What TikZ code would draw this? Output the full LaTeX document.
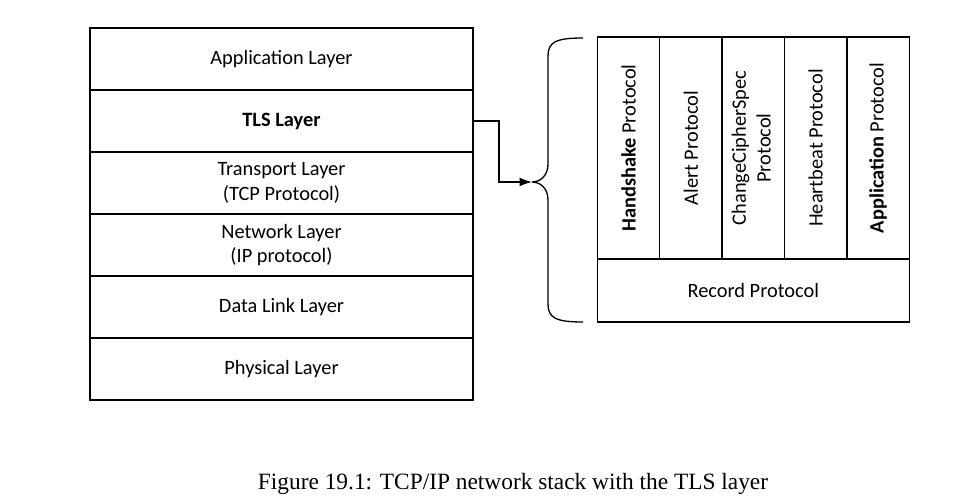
\documentclass[tikz,border=0pt]{standalone}
\usepackage{fontspec}
\setmainfont{Carlito}
\newfontfamily\capfont{Liberation Serif}
\usepackage{tikz}
\usetikzlibrary{positioning, arrows.meta}

\begin{document}
\begin{tikzpicture}[x=0.02cm, y=-0.02cm, node distance=0pt,
    every node/.style={font=\fontsize{11.6}{14}\selectfont},
    layerbox/.style={draw, line width=0.75pt, outer sep=0pt, minimum width=7.66cm, minimum height=1.24cm, align=center, inner sep=0pt},
    protobox/.style={draw, line width=0.75pt, outer sep=0pt, minimum width=1.248cm, minimum height=4.44cm, inner sep=0pt},
    recordbox/.style={draw, line width=0.75pt, outer sep=0pt, minimum width=6.24cm, minimum height=1.26cm, inner sep=0pt}]
    \useasboundingbox (0,0) rectangle (976,502);

    \node[layerbox] at (281.5,59)      (layer 1) {Application Layer};
    \node[layerbox, below=of layer 1]  (layer 2) {\textbf{TLS Layer}};
    \node[layerbox, below=of layer 2]  (layer 3) {Transport Layer\\(TCP Protocol)};
    \node[layerbox, below=of layer 3]  (layer 4) {Network Layer\\(IP protocol)};
    \node[layerbox, below=of layer 4]  (layer 5) {Data Link Layer};
    \node[layerbox, below=of layer 5]  (layer 6) {Physical Layer};

    \node[protobox] at (628.5,148)     (proto 1) {\rotatebox{90}{\textbf{Handshake} Protocol}};
    \node[protobox, right=of proto 1]  (proto 2) {\rotatebox{90}{Alert Protocol}};
    \node[protobox, right=of proto 2]  (proto 3) {\rotatebox{90}{\begin{tabular}{@{}c@{}}ChangeCipherSpec\\Protocol\end{tabular}}};
    \node[protobox, right=of proto 3]  (proto 4) {\rotatebox{90}{Heartbeat Protocol}};
    \node[protobox, right=of proto 4]  (proto 5) {\rotatebox{90}{\textbf{Application} Protocol}};
    \node[recordbox, anchor=north west] at (proto 1.south west) (record) {Record Protocol};

    \coordinate (tip) at (532,182);
    \draw[line width=0.75pt] (583,38) .. controls (556,38) and (548,42) .. (548,56) -- (548,164)
        .. controls (548,176) and (540,182) .. (tip)
        .. controls (540,182) and (548,188) .. (548,200) -- (548,304)
        .. controls (548,318) and (556,322) .. (583,322);
    \draw[line width=0.75pt, -{Latex[length=7pt, width=5pt]}] (layer 2.east) -- ++(26,0) |- (tip);

    \node[font=\capfont\fontsize{13.3}{16}\selectfont] at (513,484) (caption) {Figure 19.1: TCP/IP network stack with the TLS layer};
\end{tikzpicture}
\end{document}
